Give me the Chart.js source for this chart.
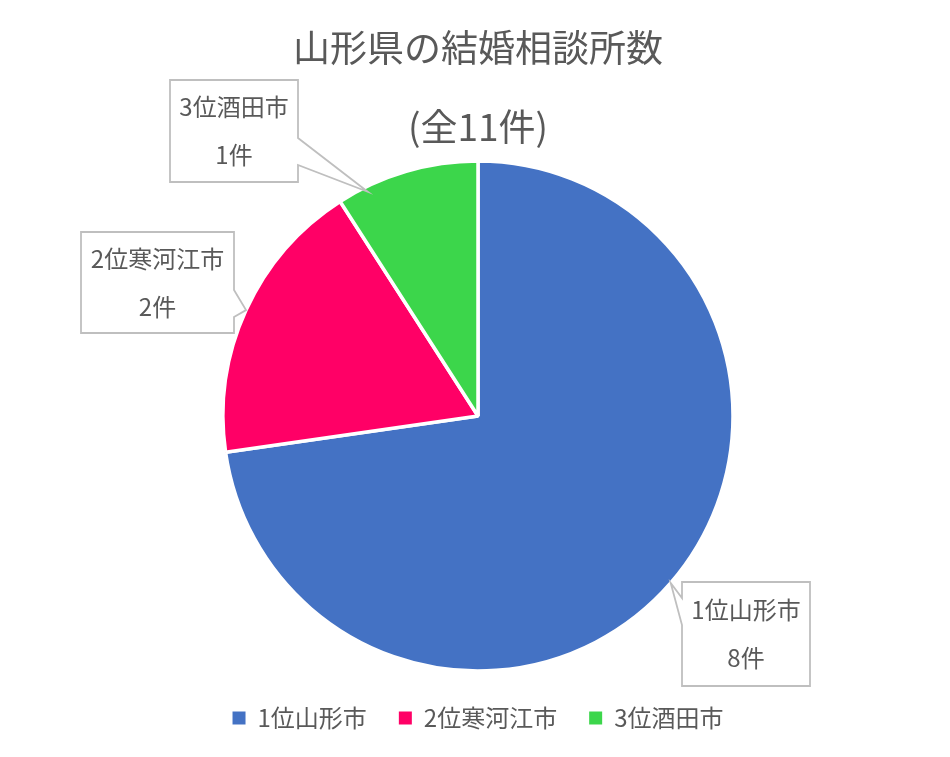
<!DOCTYPE html>
<html><head><meta charset="utf-8">
<script src="https://cdn.jsdelivr.net/npm/chart.js@4"></script>
<style>html,body{margin:0;padding:0;background:#fff;}</style>
</head><body>
<canvas id="c" width="950" height="757"></canvas>
<script>
const titleLines = ['山形県の結婚相談所数', '(全11件)'];
const categories = ['1位山形市', '2位寒河江市', '3位酒田市'];
const counts = [8, 2, 1];
const unit = '件';
const colors = ['#4472C4', '#FF0066', '#3CD64B'];

const FONT = '"Noto Sans CJK JP", "Noto Sans", sans-serif';
const TEXT = '#595959';

const calloutPlugin = {
  id: 'callouts',
  afterDatasetsDraw(chart, args, opts) {
    const ctx = chart.ctx;
    const meta = chart.getDatasetMeta(0);
    const ds = chart.data.datasets[0];
    meta.data.forEach((arc, i) => {
      const b = opts.boxes[i];
      const p = arc.getProps(['x','y','startAngle','endAngle','outerRadius'], true);
      const a = p.startAngle + b.t * (p.endAngle - p.startAngle);
      const tx = p.x + Math.cos(a) * p.outerRadius * b.rf;
      const ty = p.y + Math.sin(a) * p.outerRadius * b.rf;
      const L = p.x + b.dx, T = p.y + b.dy, R = L + b.w, B = T + b.h;
      ctx.save();
      ctx.beginPath();
      ctx.moveTo(L, T);
      ctx.lineTo(R, T);
      if (b.side === 'right') {
        ctx.lineTo(R, T + b.w0);
        ctx.lineTo(tx, ty);
        ctx.lineTo(R, T + b.w1);
      }
      ctx.lineTo(R, B);
      ctx.lineTo(L, B);
      if (b.side === 'left') {
        ctx.lineTo(L, T + b.w1);
        ctx.lineTo(tx, ty);
        ctx.lineTo(L, T + b.w0);
      }
      ctx.closePath();
      ctx.fillStyle = '#ffffff';
      ctx.fill();
      ctx.lineWidth = 1.8;
      ctx.strokeStyle = '#BFBFBF';
      ctx.lineJoin = 'miter';
      ctx.stroke();
      ctx.fillStyle = TEXT;
      ctx.font = '24px ' + FONT;
      ctx.textAlign = 'center';
      ctx.textBaseline = 'middle';
      const cx = (L + R) / 2, cy = (T + B) / 2;
      ctx.fillText(chart.data.labels[i], cx, cy - 24);
      ctx.fillText(ds.data[i] + unit, cx, cy + 24);
      ctx.restore();
    });
  }
};

new Chart(document.getElementById('c'), {
  type: 'pie',
  data: {
    labels: categories,
    datasets: [{
      data: counts,
      backgroundColor: colors,
      borderColor: '#ffffff',
      borderWidth: 3.5,
      radius: 255
    }]
  },
  options: {
    responsive: false,
    animation: false,
    devicePixelRatio: 1,
    layout: { padding: { left: 6, bottom: 17 } },
    plugins: {
      tooltip: { enabled: false },
      title: {
        display: true,
        text: titleLines,
        color: TEXT,
        font: { family: FONT, size: 37, weight: 'normal', lineHeight: 79/37 },
        padding: { top: 8.5, bottom: -8.5 }
      },
      legend: {
        position: 'bottom',
        labels: {
          color: TEXT,
          font: { family: FONT, size: 24 },
          boxWidth: 13,
          boxHeight: 13,
          padding: 32,
          generateLabels(chart) {
            const items = Chart.overrides.pie.plugins.legend.labels.generateLabels(chart);
            return items.map(it => Object.assign(it, { lineWidth: 0, strokeStyle: it.fillStyle }));
          }
        }
      },
      callouts: {
        boxes: [
          { dx: 204, dy: 166, w: 128, h: 104, side: 'left', w0: 16, w1: 43, t: 0.5, rf: 1.0 },
          { dx: -397, dy: -184, w: 153, h: 101, side: 'right', w0: 58, w1: 85, t: 0.5, rf: 1.0 },
          { dx: -308, dy: -336, w: 128, h: 102, side: 'right', w0: 58, w1: 85, t: 0.2, rf: 0.98 }
        ]
      }
    }
  },
  plugins: [calloutPlugin]
});
</script>
</body></html>
